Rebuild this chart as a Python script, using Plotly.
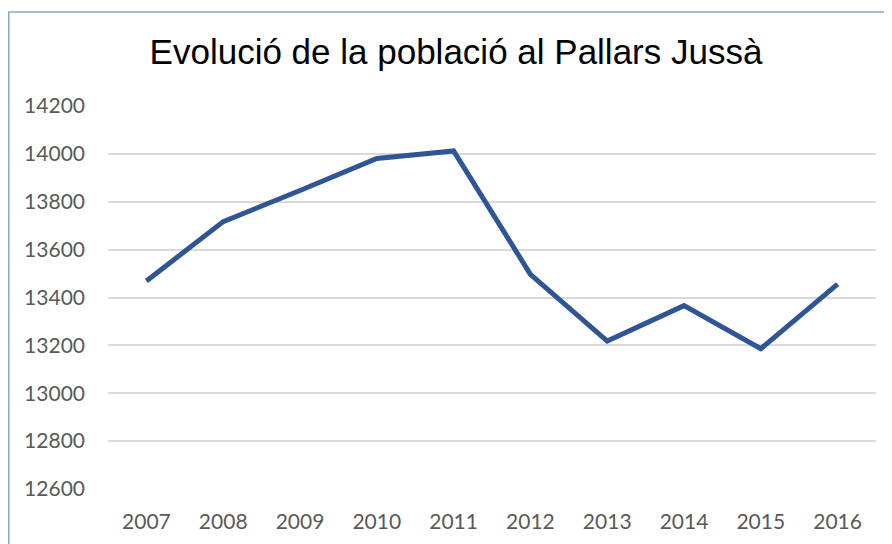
import plotly.graph_objects as go

years = ["2007", "2008", "2009", "2010", "2011", "2012", "2013", "2014", "2015", "2016"]
population = [13469, 13717, 13847, 13981, 14012, 13497, 13218, 13366, 13186, 13456]
y_ticks = [12600, 12800, 13000, 13200, 13400, 13600, 13800, 14000, 14200]
title_text = "Evolució de la població al Pallars Jussà"

# page has an 8px body margin; work in page coordinates and offset
OFF = 8
W, H = 892 - OFF, 544 - OFF
L, T = 108 - OFF, 106 - OFF
R = W - (876 - OFF)
B = H - (489 - OFF)
pw, ph = W - L - R, H - T - B

fig = go.Figure()
fig.add_trace(go.Scatter(
    x=years, y=population, mode="lines",
    line=dict(color="#2F5597", width=5),
    hoverinfo="x+y", cliponaxis=False,
))

fig.update_layout(
    width=W, height=H,
    margin=dict(l=L, r=R, t=T, b=B, autoexpand=False),
    paper_bgcolor="white", plot_bgcolor="white",
    showlegend=False,
    title=dict(text=title_text, x=(456 - OFF) / W, xanchor="center", xref="container",
               y=1 - (52 - OFF) / H, yanchor="middle", yref="container",
               font=dict(family="Liberation Sans, Arial", size=35, color="#000000")),
    xaxis=dict(type="category", range=[-0.5, 9.5], automargin=False,
               showgrid=False, zeroline=False, showline=False,
               ticks="", tickfont=dict(family="Lato", size=21, color="#595959"),
               ticklabelstandoff=18),
    yaxis=dict(range=[12600, 14200], tickvals=y_ticks, ticktext=[str(v) for v in y_ticks],
               automargin=False,
               showgrid=True, gridcolor="#D9D9D9", gridwidth=1.5, zeroline=False,
               showline=False, ticks="",
               tickfont=dict(family="Lato", size=21, color="#595959"),
               ticklabelstandoff=22),
    shapes=[dict(type="rect", xref="paper", yref="paper",
                 x0=(0.75 - L) / pw, x1=(W + 10 - L) / pw,
                 y0=-(H + 10 - (H - B)) / ph, y1=(H - B - (12 - OFF)) / ph,
                 line=dict(color="#8FA6BF", width=1.5), fillcolor="rgba(0,0,0,0)",
                 layer="below")],
)

fig.write_html("out.html")
